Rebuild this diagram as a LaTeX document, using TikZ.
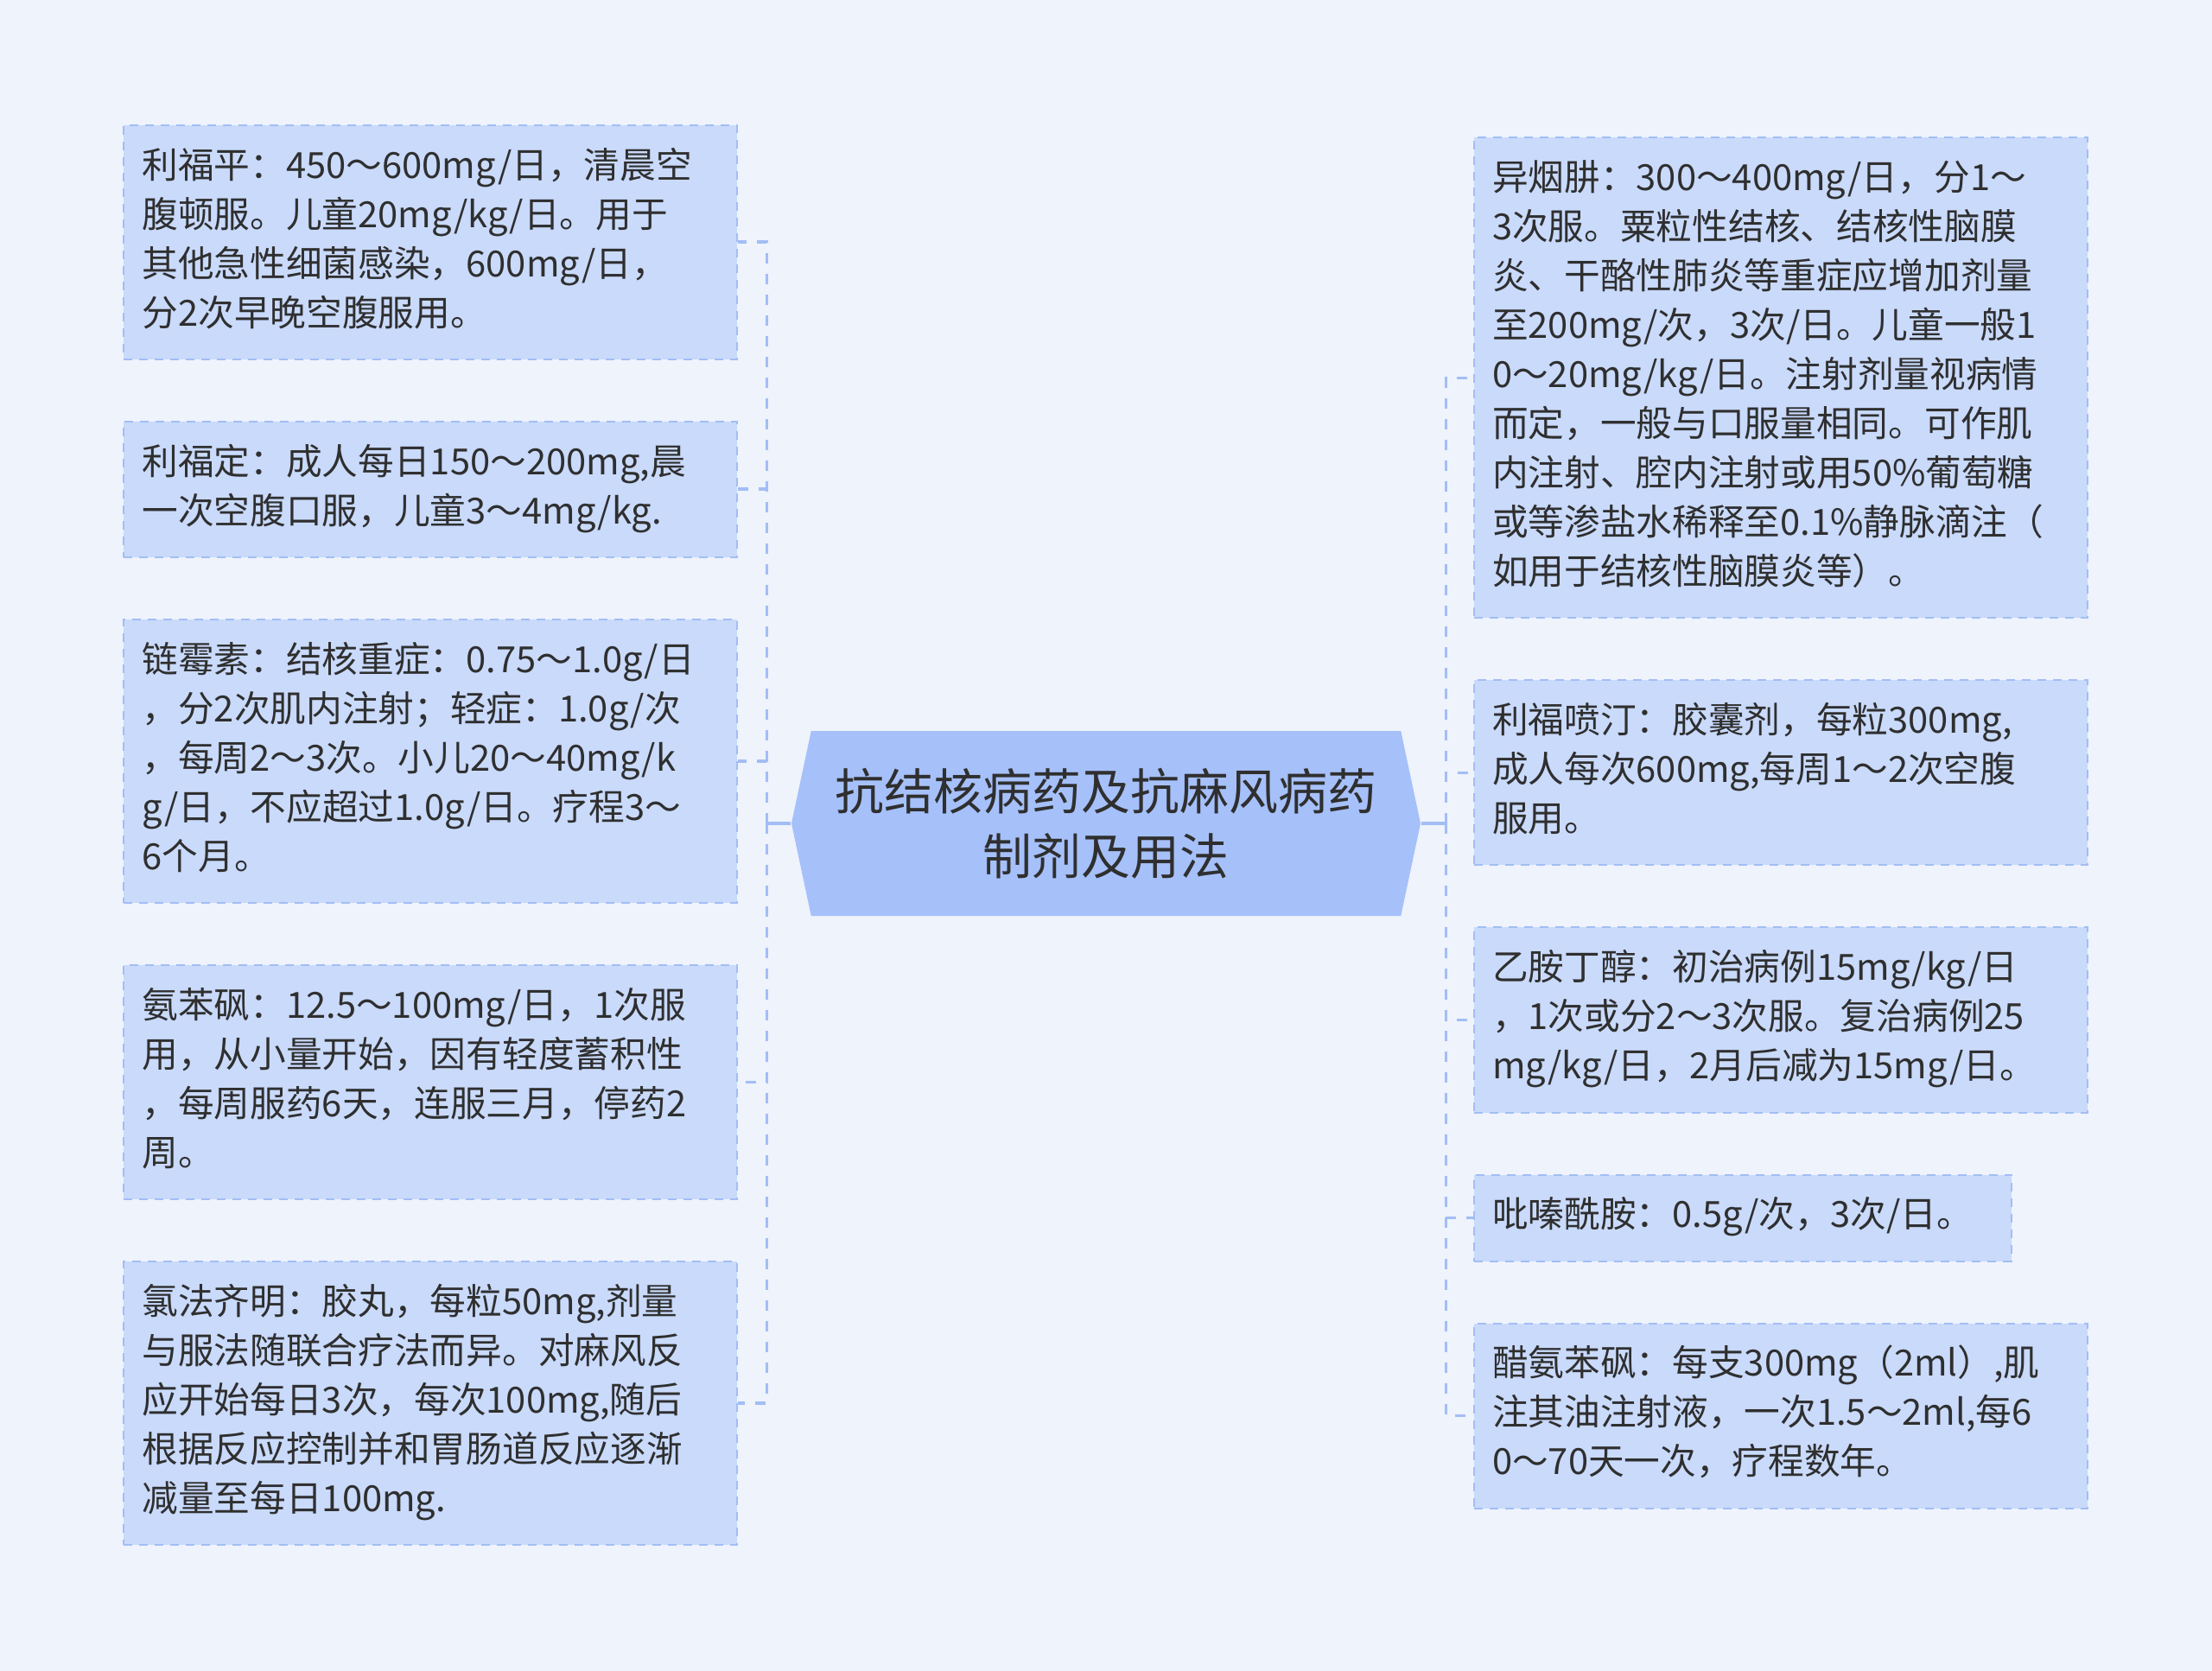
\documentclass[tikz,border=0pt]{standalone}
\usepackage{fontspec}
\setmainfont{Noto Sans CJK SC}
\usetikzlibrary{positioning,shapes.symbols}

\definecolor{pagebg}{HTML}{EEF3FC}
\definecolor{leafbg}{HTML}{C9DAFB}
\definecolor{rootbg}{HTML}{A6C0FA}
\definecolor{edgeblue}{HTML}{A3BDF5}
\definecolor{inkgray}{HTML}{2F2F2F}

\begin{document}
\begin{tikzpicture}[
  node distance=0.7cm,
  root/.style={signal, signal to=west and east, signal pointer angle=156, fill=rootbg, text=inkgray, align=center, minimum width=7.28cm, minimum height=2.14cm, inner sep=0pt, font=\fontsize{16.2pt}{21.3pt}\selectfont},
  leaf/.style={draw=edgeblue, line width=0.02cm, dash pattern=on 0.1cm off 0.08cm, fill=leafbg, text=inkgray, align=left, inner sep=0.215cm, font=\fontsize{11.86pt}{16.22pt}\selectfont, execute at begin node=\strut, execute at end node=\strut},
  wideleaf/.style={leaf, text width=6.67cm},
  link/.style={draw=edgeblue, line width=0.035cm, dash pattern=on 0.12cm off 0.12cm},
  trunk/.style={draw=edgeblue, line width=0.035cm}
]

\path[fill=pagebg, use as bounding box] (0,0) rectangle (25.6,-19.34);

% Central topic
\node[root] (root) at (12.8,-9.53) {抗结核病药及抗麻风病药\\制剂及用法};

% Left branch (5 drugs)
\node[wideleaf, anchor=north east] (l1) at (8.54,-1.437) {利福平：450～600mg/日，清晨空\\腹顿服。儿童20mg/kg/日。用于\\其他急性细菌感染，600mg/日，\\分2次早晚空腹服用。};
\node[wideleaf, below=of l1] (l2) {利福定：成人每日150～200mg,晨\\一次空腹口服，儿童3～4mg/kg.};
\node[wideleaf, below=of l2] (l3) {链霉素：结核重症：0.75～1.0g/日\\，分2次肌内注射；轻症：1.0g/次\\，每周2～3次。小儿20～40mg/k\\g/日，不应超过1.0g/日。疗程3～\\6个月。};
\node[wideleaf, below=of l3] (l4) {氨苯砜：12.5～100mg/日，1次服\\用，从小量开始，因有轻度蓄积性\\，每周服药6天，连服三月，停药2\\周。};
\node[wideleaf, below=of l4] (l5) {氯法齐明：胶丸，每粒50mg,剂量\\与服法随联合疗法而异。对麻风反\\应开始每日3次，每次100mg,随后\\根据反应控制并和胃肠道反应逐渐\\减量至每日100mg.};

% Right branch (5 drugs)
\node[wideleaf, anchor=north west] (r1) at (17.046,-1.584) {异烟肼：300～400mg/日，分1～\\3次服。粟粒性结核、结核性脑膜\\炎、干酪性肺炎等重症应增加剂量\\至200mg/次，3次/日。儿童一般1\\0～20mg/kg/日。注射剂量视病情\\而定，一般与口服量相同。可作肌\\内注射、腔内注射或用50\%葡萄糖\\或等渗盐水稀释至0.1\%静脉滴注（\\如用于结核性脑膜炎等）。};
\node[wideleaf, below=of r1] (r2) {利福喷汀：胶囊剂，每粒300mg,\\成人每次600mg,每周1～2次空腹\\服用。};
\node[wideleaf, below=of r2] (r3) {乙胺丁醇：初治病例15mg/kg/日\\，1次或分2～3次服。复治病例25\\mg/kg/日，2月后减为15mg/日。};
\node[leaf, text width=5.79cm, below=of r3.south west, anchor=north west] (r4) {吡嗪酰胺：0.5g/次，3次/日。};
\node[wideleaf, below=of r4.south west, anchor=north west] (r5) {醋氨苯砜：每支300mg（2ml）,肌\\注其油注射液，一次1.5～2ml,每6\\0～70天一次，疗程数年。};

\coordinate[left=0.28cm of root.west] (lj);
\coordinate[right=0.29cm of root.east] (rj);

\draw[trunk] (root.west) -- (lj);
\draw[trunk] (root.east) -- (rj);

\draw[link] (lj) |- (l1.east);
\draw[link] (lj) |- (l2.east);
\draw[link] (lj) |- (l3.east);
\draw[link] (lj) |- (l4.east);
\draw[link] (lj) |- (l5.east);

\draw[link] (rj) |- (r1.west);
\draw[link] (rj) |- (r2.west);
\draw[link] (rj) |- (r3.west);
\draw[link] (rj) |- (r4.west);
\draw[link] (rj) |- (r5.west);

\end{tikzpicture}
\end{document}
